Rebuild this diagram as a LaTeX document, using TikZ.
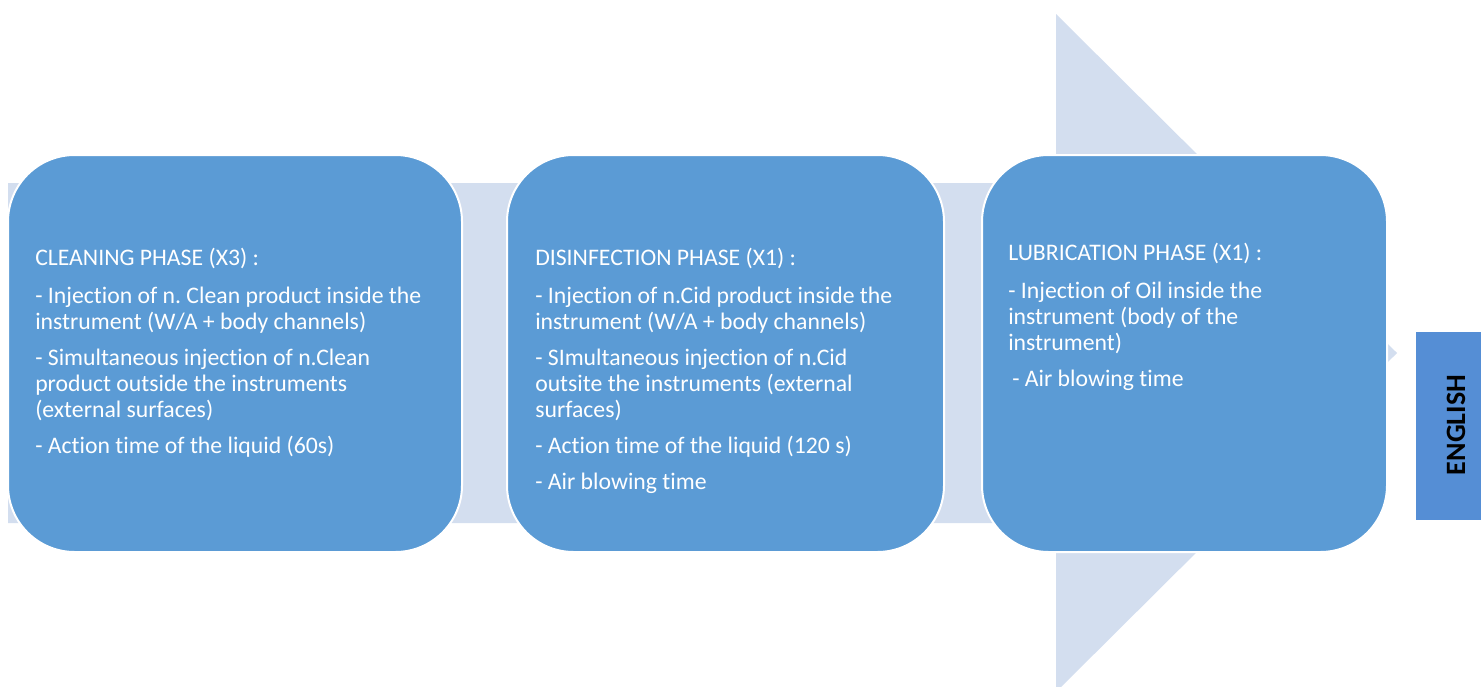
\documentclass[tikz,border=0pt]{standalone}
\usepackage{fontspec}
\setmainfont[Ligatures=NoCommon]{Carlito}
\frenchspacing
\definecolor{boxblue}{HTML}{5B9BD5}
\definecolor{arrowgrey}{HTML}{D3DEEF}
\definecolor{tagblue}{HTML}{558ED5}
\tikzset{
  x=0.75pt, y=-0.75pt,
  phasebox/.style={fill=boxblue, draw=white, line width=1.5pt, rounded corners=50pt},
  phasetext/.style={anchor=north west, inner sep=0pt, align=left, text=white,
    font=\fontsize{17.8}{19.5}\selectfont},
  tagtext/.style={rotate=90, font=\fontsize{21}{24}\selectfont\bfseries, text=black, inner sep=0pt}
}
\begin{document}
\begin{tikzpicture}
\useasboundingbox (0,0) rectangle (1481,686);
\clip (0,0) rectangle (1481,686);
% big arrow
\fill[arrowgrey] (8,183) -- (1056,183) -- (1056,14) -- (1397,353) -- (1056,692) -- (1056,523) -- (8,523) -- cycle;
% phase boxes
\draw[phasebox] (8,155) rectangle (462,552);
\draw[phasebox] (507,155) rectangle (944,552);
\draw[phasebox] (982,155) rectangle (1387,552);
% texts
\node[phasetext] (t1) at (35,247) {\strut CLEANING PHASE (X3) :\\[9pt]
- Injection of n. Clean product inside the\\
instrument (W/A + body channels)\\[7.5pt]
- Simultaneous injection of n.Clean\\
product outside the instruments\\
(external surfaces)\\[7.5pt]
- Action time of the liquid (60s)};
\node[phasetext] (t2) at (535,247) {\strut DISINFECTION PHASE (X1) :\\[9pt]
- Injection of n.Cid product inside the\\
instrument (W/A + body channels)\\[7.5pt]
- SImultaneous injection of n.Cid\\
outsite the instruments (external\\
surfaces)\\[7.5pt]
- Action time of the liquid (120 s)\\[7.5pt]
- Air blowing time};
\node[phasetext] (t3) at (1008,242) {\strut LUBRICATION PHASE (X1) :\\[9pt]
- Injection of Oil inside the\\
instrument (body of the\\
instrument)\\[7.5pt]
\hspace{3pt}- Air blowing time};
% language tag
\fill[tagblue] (1416,332) rectangle (1490,520);
\node[tagtext] (tag) at (1456,425) {ENGLISH};
\end{tikzpicture}
\end{document}
